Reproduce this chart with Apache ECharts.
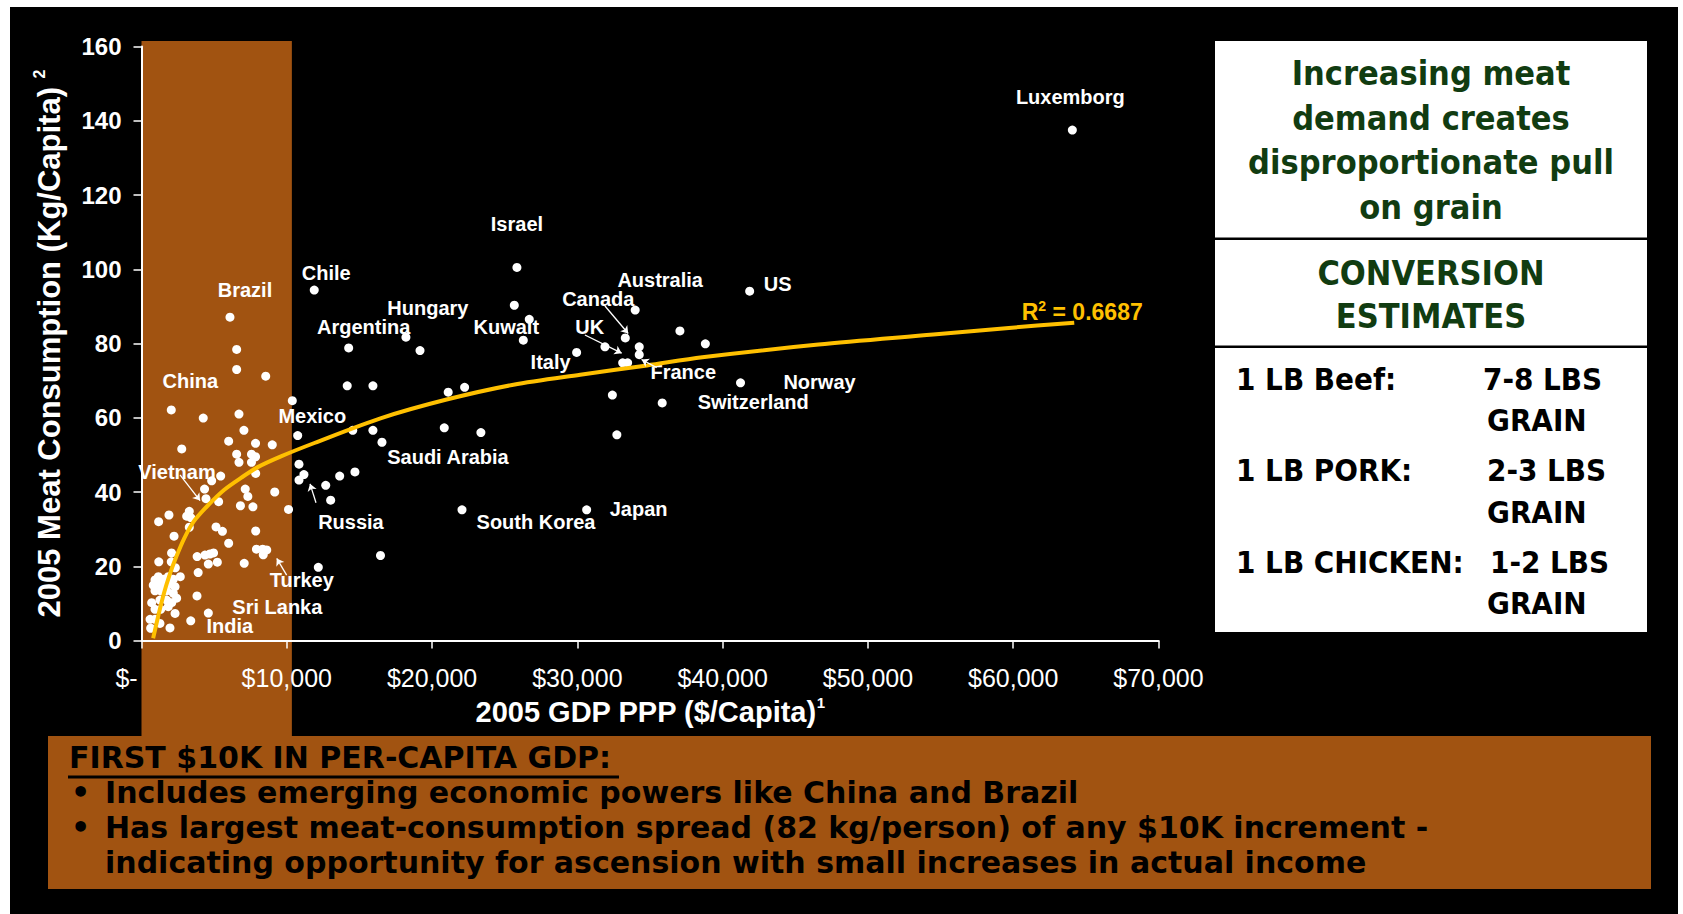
<!DOCTYPE html>
<html>
<head>
<meta charset="utf-8">
<script src="https://cdn.jsdelivr.net/npm/echarts@6/dist/echarts.min.js"></script>
<style>
  html, body { margin: 0; padding: 0; background: #fff; }
  #stage { position: relative; width: 1683px; height: 914px; background: #fff; overflow: hidden; }
  #backdrop { position: absolute; left: 10px; top: 7px; width: 1668px; height: 907px; background: #000; }
  #chart { position: absolute; left: 0; top: 0; width: 1683px; height: 914px; }
</style>
</head>
<body>
<div id="stage">
  <div id="backdrop"></div>
  <div id="chart"></div>
</div>
<script>
// 2005 GDP PPP per capita (US$) and meat consumption (kg per capita), one entry per country
const gdpPerCapita = [
  64070, 25840, 11890, 41860, 33980, 25660, 26690, 26280, 18200, 19170,
  14260, 33300, 37060, 31900, 34260, 34260, 33120, 33460, 29950, 38810,
  41230, 32410, 35840, 32720, 14160, 15930, 21110, 22240, 10380, 10750,
  14540, 15930, 16550, 20840, 23360, 10840, 11180, 10840, 12680, 13640,
  14690, 13020, 22060, 30640, 16450, 12170,
  6090, 6550, 6550, 8550, 2050, 4250, 6710, 7050, 6000, 7850,
  9000, 2770, 6550, 7570, 7850, 6710, 7570, 7860, 5450, 4830,
  4340, 4440, 5310, 7140, 7320, 9170, 6810, 7670, 10120, 1890,
  1180, 3110, 3290, 3390, 3290, 5130, 5570, 7860, 2240, 6000,
  2070, 7910, 8340, 8620, 8380, 3830, 4370, 4710, 4960, 4600,
  5220, 7070, 1190, 2050, 2330, 3900, 2670, 3820, 4600, 3390,
  1960, 2420, 930, 1160, 1500, 1840, 2190, 810, 1270, 1620,
  2080, 2310, 930, 1320, 1730, 2190, 700, 1270, 1730, 2080,
  930, 1320, 1840, 2310, 590, 930, 1270, 630
];
const meatPerCapita = [
  137.5, 100.5, 94.4, 94.1, 89.0, 90.3, 86.5, 80.9, 81.7, 78.1,
  78.8, 81.5, 83.4, 79.1, 79.1, 77.0, 74.8, 74.8, 77.6, 79.9,
  69.4, 66.1, 64.0, 55.4, 68.6, 68.6, 66.9, 68.2, 64.6, 55.2,
  56.6, 56.6, 53.4, 57.3, 56.0, 47.5, 44.7, 43.2, 41.8, 44.3,
  45.4, 37.8, 35.2, 35.2, 22.9, 19.7,
  87.1, 78.4, 73.0, 71.2, 62.1, 59.9, 61.0, 56.6, 53.7, 53.1,
  52.7, 51.6, 50.2, 50.2, 49.5, 48.0, 48.0, 45.0, 44.3, 43.0,
  40.8, 38.2, 37.4, 40.8, 38.8, 40.0, 36.3, 36.0, 35.3, 33.8,
  32.0, 33.5, 34.8, 33.1, 30.5, 30.6, 29.4, 29.5, 28.1, 26.2,
  23.6, 24.6, 24.6, 24.4, 23.1, 22.6, 23.0, 23.3, 23.6, 20.6,
  21.1, 20.8, 21.2, 21.2, 19.6, 18.3, 17.2, 12.0, 7.4, 5.3,
  3.4, 11.4, 16.3, 17.2, 16.5, 17.2, 16.5, 14.9, 15.2, 14.5,
  15.2, 14.5, 13.4, 13.4, 13.4, 12.7, 10.2, 10.9, 10.9, 10.2,
  8.4, 8.4, 9.1, 7.3, 5.7, 5.7, 4.6, 3.3
];
// names shown next to individual countries ('' = unlabelled)
const countryNames = [
  'Luxemborg', 'Israel', 'Chile', 'US', 'Australia', '', '', 'Kuwait', 'Hungary', '',
  'Argentina', 'Canada', '', '', '', 'France', 'UK', '', 'Italy', '',
  'Norway', '', 'Switzerland', '', '', '', '', '', 'Mexico', '',
  '', '', 'Saudi Arabia', '', '', '', 'Russia', '', '', '',
  '', '', 'South Korea', 'Japan', '', '',
  'Brazil', '', '', '', 'China', '', '', '', '', '',
  '', '', '', '', '', '', '', '', '', '',
  '', 'Vietnam', '', '', '', '', '', '', '', '',
  '', '', '', '', '', '', '', '', '', '',
  '', '', '', 'Turkey', '', '', '', '', '', '',
  '', '', '', '', '', '', '', '', 'Sri Lanka', 'India',
  '', '', '', '', '', '', '', '', '', '',
  '', '', '', '', '', '', '', '', '', '',
  '', '', '', '', '', '', '', ''
];

// logarithmic trend line through the scatter
const trendGdp  = [800, 1200, 1550, 1900, 2400, 2950, 3600, 4550, 5700, 6850, 8000, 9600, 11900, 16500, 21000, 25600, 30200, 34800, 38600, 46600, 54500, 59700, 64200];
const trendMeat = [0.6, 7.4, 12.8, 17.3, 22.6, 27.6, 32.1, 36.3, 40.6, 43.8, 46.7, 49.6, 53.2, 59.9, 64.9, 68.9, 71.6, 74.1, 76.3, 79.7, 82.4, 84.2, 85.6];
const rSquared = '0.6687';

// axis ticks
const gdpTicks = [0, 10000, 20000, 30000, 40000, 50000, 60000, 70000];
const gdpTickLabels = ['$-', '$10,000', '$20,000', '$30,000', '$40,000', '$50,000', '$60,000', '$70,000'];
const meatTicks = [0, 20, 40, 60, 80, 100, 120, 140, 160];

// highlighted income range: the first $10K of per-capita GDP
const focusBand = [0, 10350];

// pointer arrows for crowded labels, in axis units [gdp, meat]
const pointerArrows = [
  { from: [31900, 90.1], to: [33500, 82.7] },   // Canada
  { from: [30520, 82.3], to: [33050, 77.4] },   // UK
  { from: [35460, 73.5], to: [34420, 75.7] },   // France
  { from: [2650, 44.6],  to: [4030, 37.7] },    // Vietnam
  { from: [12010, 37.1], to: [11600, 42.2] },   // Russia
  { from: [9990, 17.6],  to: [9310, 22.1] }     // Turkey
];

// label placement relative to each country's dot, in pixels
const labelOffsets = {
  'Luxemborg': [-2, -33], 'Israel': [0, -43], 'Chile': [12, -17], 'US': [28, -7],
  'Australia': [25, -30], 'Brazil': [15, -27], 'China': [19, -29], 'Hungary': [22, -29],
  'Argentina': [15, -21], 'Kuwait': [-17, -13], 'Canada': [-27, -39], 'UK': [-33, -36],
  'Italy': [-26, 10], 'France': [44, 17], 'Norway': [79, -1], 'Switzerland': [91, -1],
  'Mexico': [20, 15], 'Saudi Arabia': [66, 15], 'Vietnam': [-29, -27], 'Russia': [47, 47],
  'South Korea': [74, 12], 'Japan': [52, -1], 'Turkey': [35, 30], 'Sri Lanka': [69, -6],
  'India': [39, 5]
};

// banner text lines
const bannerHeading = 'FIRST $10K IN PER-CAPITA GDP:';
const bannerBullets = [
  ['Includes emerging economic powers like China and Brazil'],
  ['Has largest meat-consumption spread (82 kg/person) of any $10K increment -',
   'indicating opportunity for ascension with small increases in actual income']
];

const ARIAL = '"Liberation Sans", Arial, sans-serif';
const TAHOMA = '"DejaVu Sans Condensed", "DejaVu Sans", sans-serif';
const VERDANA = '"DejaVu Sans", sans-serif';
const BAND_COLOR = '#A15311';
const PANEL_GREEN = '#113C11';
const GOLD = '#FFC000';

const points = gdpPerCapita.map((g, i) => {
  const item = { value: [g, meatPerCapita[i]] };
  const name = countryNames[i];
  if (name) {
    item.name = name;
    item.label = { show: true, formatter: name, offset: labelOffsets[name] };
  }
  return item;
});

const trend = trendGdp.map((g, i) => [g, trendMeat[i]]);

const chart = echarts.init(document.getElementById('chart'), null, { renderer: 'svg' });

const option = {
  animation: false,
  backgroundColor: 'transparent',
  textStyle: { fontFamily: ARIAL },
  grid: { left: 141.5, top: 46.5, width: 1017, height: 594, containLabel: false },
  xAxis: {
    type: 'value',
    min: gdpTicks[0],
    max: gdpTicks[gdpTicks.length - 1],
    interval: gdpTicks[1] - gdpTicks[0],
    name: '2005 GDP PPP ($/Capita){s|1}',
    nameLocation: 'middle',
    nameGap: 52,
    nameTextStyle: {
      color: '#fff', fontSize: 29, fontWeight: 'bold', fontFamily: ARIAL, lineHeight: 34,
      rich: { s: { color: '#fff', fontSize: 15, fontWeight: 'bold', fontFamily: ARIAL, lineHeight: 14, verticalAlign: 'top' } }
    },
    axisLine: { show: true, onZero: false, lineStyle: { color: '#fff', width: 2 } },
    axisTick: { show: true, length: 8, lineStyle: { color: '#fff', width: 1.5 } },
    splitLine: { show: false },
    axisLabel: {
      color: '#fff', fontSize: 25, fontFamily: ARIAL, margin: 25,
      formatter: v => {
        const label = gdpTickLabels[gdpTicks.indexOf(v)];
        return v === 0 ? '{z|' + label + '}' : label;
      },
      rich: { z: { color: '#fff', fontSize: 25, fontFamily: ARIAL, padding: [0, 30, 0, 0] } }
    }
  },
  yAxis: {
    type: 'value',
    min: meatTicks[0],
    max: meatTicks[meatTicks.length - 1],
    interval: meatTicks[1] - meatTicks[0],
    name: '2005 Meat Consumption (Kg/Capita) {s|2}',
    nameLocation: 'middle',
    nameGap: 74,
    nameTextStyle: {
      color: '#fff', fontSize: 31, fontWeight: 'bold', fontFamily: ARIAL, lineHeight: 36,
      rich: { s: { color: '#fff', fontSize: 16, fontWeight: 'bold', fontFamily: ARIAL, lineHeight: 15, verticalAlign: 'top' } }
    },
    axisLine: { show: true, onZero: false, lineStyle: { color: '#fff', width: 2 } },
    axisTick: { show: true, length: 8, lineStyle: { color: '#fff', width: 1.5 } },
    splitLine: { show: false },
    axisLabel: { color: '#fff', fontSize: 24, fontWeight: 'bold', fontFamily: ARIAL, margin: 20 }
  },
  series: [
    {
      type: 'scatter',
      data: points,
      symbol: 'circle',
      symbolSize: 9,
      itemStyle: { color: '#fff', opacity: 1 },
      z: 3,
      label: {
        show: false, position: 'inside', color: '#fff', fontSize: 20, fontWeight: 'bold',
        fontFamily: ARIAL, align: 'center', verticalAlign: 'middle'
      },
      emphasis: { disabled: true },
      markLine: {
        silent: true,
        symbol: ['none', 'arrow'],
        symbolSize: 7,
        lineStyle: { color: '#fff', width: 1.3, type: 'solid', opacity: 1 },
        label: { show: false },
        emphasis: { disabled: true },
        data: pointerArrows.map(a => [{ coord: a.from }, { coord: a.to }])
      }
    },
    {
      type: 'line',
      data: trend,
      smooth: 0.3,
      showSymbol: false,
      lineStyle: { color: GOLD, width: 4 },
      z: 4,
      emphasis: { disabled: true },
      markPoint: {
        silent: true,
        symbol: 'circle',
        symbolSize: 1,
        itemStyle: { color: 'rgba(0,0,0,0)' },
        data: [{
          coord: trend[trend.length - 1],
          label: {
            show: true, position: 'inside', offset: [8, -11],
            formatter: 'R{s|2} = ' + rSquared,
            color: GOLD, fontSize: 23, fontWeight: 'bold', fontFamily: ARIAL, lineHeight: 26,
            rich: { s: { color: GOLD, fontSize: 14, fontWeight: 'bold', fontFamily: ARIAL, lineHeight: 14, verticalAlign: 'top' } }
          }
        }]
      }
    }
  ]
};

chart.setOption(option);

// decorative panels, band and banner
const bandLeft = chart.convertToPixel({ xAxisIndex: 0 }, focusBand[0]);
const bandRight = chart.convertToPixel({ xAxisIndex: 0 }, focusBand[1]);

function txt(text, x, y, o) {
  return {
    type: 'text', x: x, y: y, z: o.z || 10, silent: true,
    style: Object.assign({
      text: text, fill: '#000', fontFamily: TAHOMA, fontSize: 30, fontWeight: 'bold',
      align: 'left', verticalAlign: 'middle'
    }, o.style || {})
  };
}

// banner: heading plus bulleted lines with a hanging indent
const bannerLineH = 35;
const bannerFont = { fontFamily: VERDANA, fontSize: 30, fontWeight: 'bold', lineHeight: 30 };
const bannerItems = [txt(bannerHeading, 69, 757, { style: bannerFont })];
let bannerRow = 1;
bannerBullets.forEach(b => b.forEach((line, k) => {
  const y = 757 + bannerRow * bannerLineH;
  if (k === 0) bannerItems.push(txt('\u2022', 71, y, { style: bannerFont }));
  bannerItems.push(txt(line, 105, y, { style: bannerFont }));
  bannerRow++;
}));

const panelX = 1215, panelW = 432, panelCX = panelX + panelW / 2;
const rowFont = { fontSize: 31, lineHeight: 34 };

chart.setOption({
  graphic: [
    { type: 'rect', z: -1, silent: true, shape: { x: bandLeft, y: 41, width: bandRight - bandLeft, height: 736 - 41 }, style: { fill: BAND_COLOR } },
    { type: 'rect', z: 5, silent: true, shape: { x: 48, y: 736, width: 1603, height: 153 }, style: { fill: BAND_COLOR } },
    ...bannerItems,
    { type: 'line', z: 10, silent: true, shape: { x1: 68, y1: 777, x2: 619, y2: 777 }, style: { stroke: '#000', lineWidth: 3 } },

    { type: 'rect', z: 5, silent: true, shape: { x: panelX, y: 41, width: panelW, height: 196.5 }, style: { fill: '#fff' } },
    { type: 'rect', z: 5, silent: true, shape: { x: panelX, y: 240, width: panelW, height: 105.5 }, style: { fill: '#fff' } },
    { type: 'rect', z: 5, silent: true, shape: { x: panelX, y: 348, width: panelW, height: 284 }, style: { fill: '#fff' } },
    txt('Increasing meat\ndemand creates\ndisproportionate pull\non grain', panelCX, 140,
      { style: { fill: PANEL_GREEN, fontSize: 34, align: 'center', lineHeight: 44.7 } }),
    txt('CONVERSION\nESTIMATES', panelCX, 294,
      { style: { fill: PANEL_GREEN, fontSize: 34, align: 'center', lineHeight: 43 } }),
    txt('1 LB Beef:', 1236, 379, { style: rowFont }),
    txt('7-8 LBS', 1483, 379, { style: rowFont }),
    txt('GRAIN', 1487, 420, { style: rowFont }),
    txt('1 LB PORK:', 1236, 470, { style: rowFont }),
    txt('2-3 LBS', 1487, 470, { style: rowFont }),
    txt('GRAIN', 1487, 512, { style: rowFont }),
    txt('1 LB CHICKEN:', 1236, 562, { style: rowFont }),
    txt('1-2 LBS', 1490, 562, { style: rowFont }),
    txt('GRAIN', 1487, 603, { style: rowFont })
  ]
});
</script>
</body>
</html>
